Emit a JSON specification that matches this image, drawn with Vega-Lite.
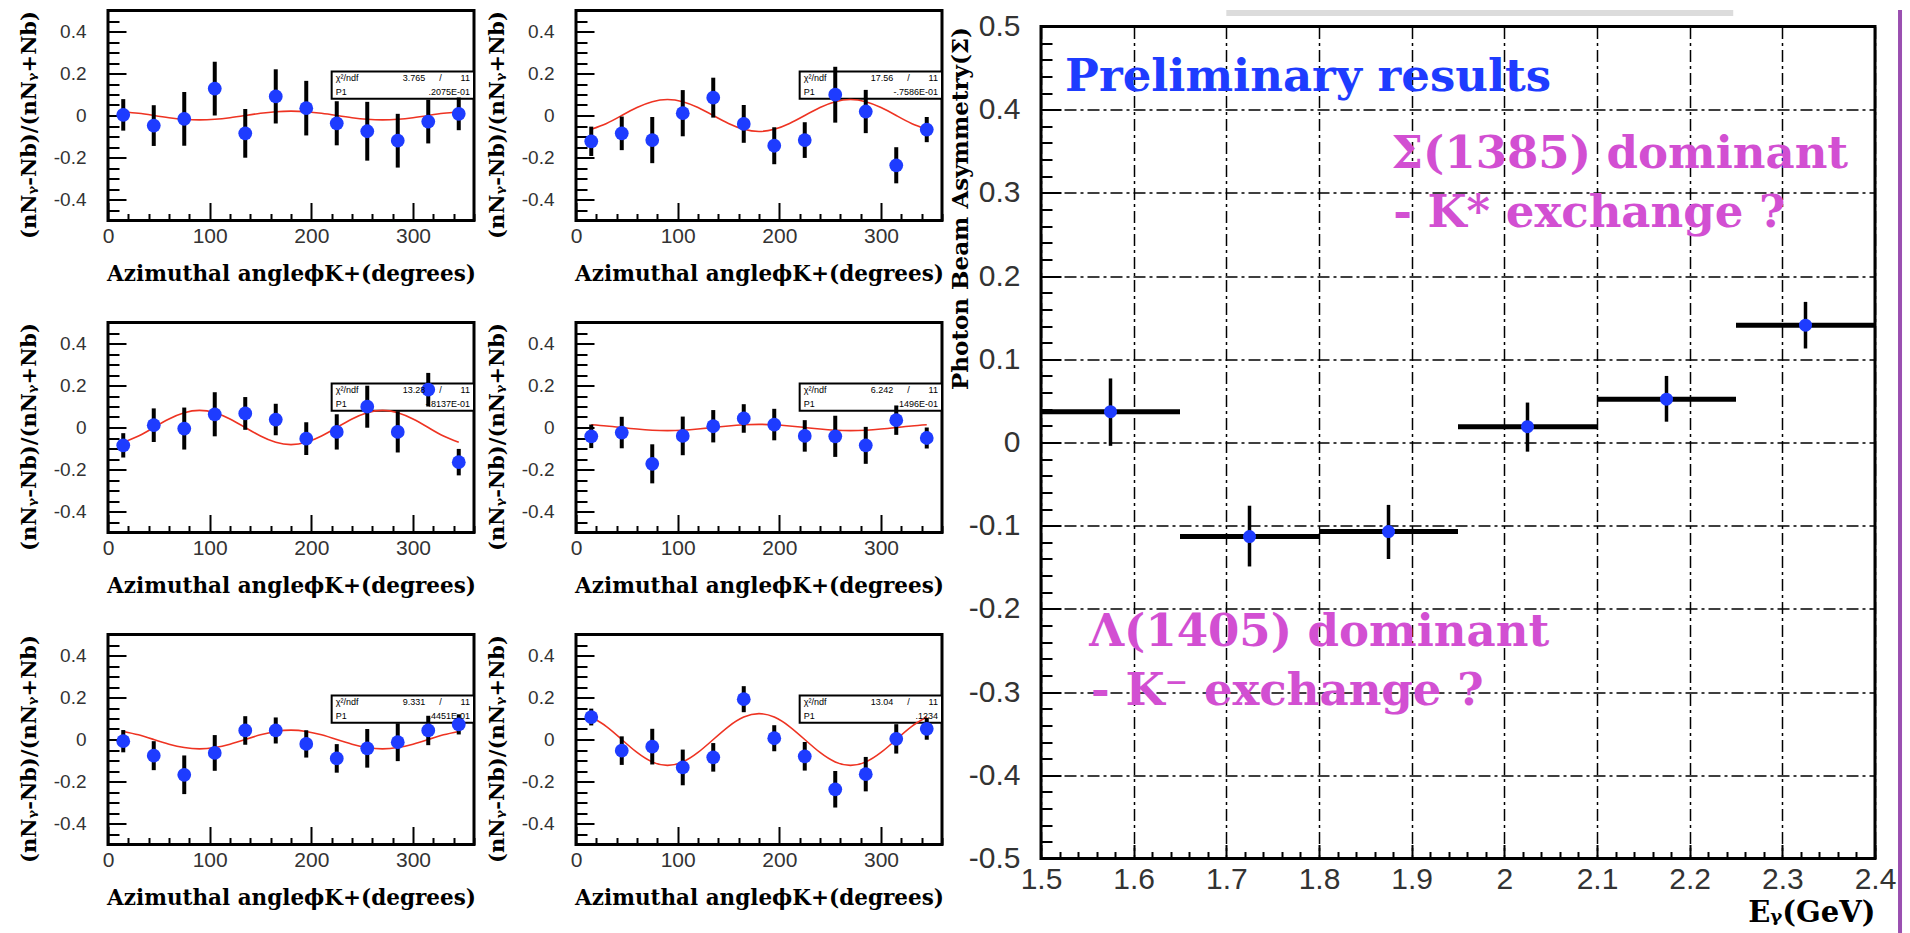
{
"$schema": "https://vega.github.io/schema/vega-lite/v6.json",
"background": "white",
"padding": {"left": 16, "top": 6.5, "right": 0, "bottom": 0},
"config": {
  "view": {"stroke": "black", "strokeWidth": 3},
  "header": {"labels": false, "title": null},
  "headerFacet": {"labels": false, "title": null},
  "axis": {"labelFont": "Liberation Sans", "labelColor": "#333333", "titleFont": "DejaVu Serif", "titleFontWeight": "bold", "titleColor": "black", "tickColor": "black", "tickWidth": 2, "domain": false, "labelFlush": false, "labelOverlap": false, "labelBound": false, "grid": false}
},
"datasets": {
"small": [
{"p":1,"k":"stat","chi":"3.765","ndf":"11","p1":".2075E-01"},
{"p":2,"k":"stat","chi":"17.56","ndf":"11","p1":"-.7586E-01"},
{"p":3,"k":"stat","chi":"13.28","ndf":"11","p1":"-.8137E-01"},
{"p":4,"k":"stat","chi":"6.242","ndf":"11","p1":".1496E-01"},
{"p":5,"k":"stat","chi":"9.331","ndf":"11","p1":".4451E-01"},
{"p":6,"k":"stat","chi":"13.04","ndf":"11","p1":".1234"},
{"p":1,"k":"pt","phi":15,"a":0.003,"lo":-0.072,"hi":0.078},
{"p":1,"k":"pt","phi":45,"a":-0.048,"lo":-0.145,"hi":0.049},
{"p":1,"k":"pt","phi":75,"a":-0.016,"lo":-0.144,"hi":0.112},
{"p":1,"k":"pt","phi":105,"a":0.128,"lo":0.0,"hi":0.256},
{"p":1,"k":"pt","phi":135,"a":-0.085,"lo":-0.201,"hi":0.031},
{"p":1,"k":"pt","phi":165,"a":0.091,"lo":-0.038,"hi":0.22},
{"p":1,"k":"pt","phi":195,"a":0.035,"lo":-0.095,"hi":0.165},
{"p":1,"k":"pt","phi":225,"a":-0.037,"lo":-0.142,"hi":0.068},
{"p":1,"k":"pt","phi":255,"a":-0.075,"lo":-0.215,"hi":0.065},
{"p":1,"k":"pt","phi":285,"a":-0.12,"lo":-0.248,"hi":0.008},
{"p":1,"k":"pt","phi":315,"a":-0.029,"lo":-0.133,"hi":0.075},
{"p":1,"k":"pt","phi":345,"a":0.008,"lo":-0.07,"hi":0.086},
{"p":2,"k":"pt","phi":15,"a":-0.123,"lo":-0.193,"hi":-0.053},
{"p":2,"k":"pt","phi":45,"a":-0.085,"lo":-0.165,"hi":-0.005},
{"p":2,"k":"pt","phi":75,"a":-0.117,"lo":-0.227,"hi":-0.007},
{"p":2,"k":"pt","phi":105,"a":0.011,"lo":-0.099,"hi":0.121},
{"p":2,"k":"pt","phi":135,"a":0.085,"lo":-0.01,"hi":0.18},
{"p":2,"k":"pt","phi":165,"a":-0.04,"lo":-0.13,"hi":0.05},
{"p":2,"k":"pt","phi":195,"a":-0.144,"lo":-0.232,"hi":-0.056},
{"p":2,"k":"pt","phi":225,"a":-0.117,"lo":-0.202,"hi":-0.032},
{"p":2,"k":"pt","phi":255,"a":0.099,"lo":-0.034,"hi":0.232},
{"p":2,"k":"pt","phi":285,"a":0.019,"lo":-0.084,"hi":0.122},
{"p":2,"k":"pt","phi":315,"a":-0.237,"lo":-0.323,"hi":-0.151},
{"p":2,"k":"pt","phi":345,"a":-0.067,"lo":-0.127,"hi":-0.007},
{"p":3,"k":"pt","phi":15,"a":-0.085,"lo":-0.143,"hi":-0.027},
{"p":3,"k":"pt","phi":45,"a":0.011,"lo":-0.069,"hi":0.091},
{"p":3,"k":"pt","phi":75,"a":-0.005,"lo":-0.105,"hi":0.095},
{"p":3,"k":"pt","phi":105,"a":0.063,"lo":-0.042,"hi":0.168},
{"p":3,"k":"pt","phi":135,"a":0.067,"lo":-0.011,"hi":0.145},
{"p":3,"k":"pt","phi":165,"a":0.038,"lo":-0.037,"hi":0.113},
{"p":3,"k":"pt","phi":195,"a":-0.053,"lo":-0.131,"hi":0.025},
{"p":3,"k":"pt","phi":225,"a":-0.021,"lo":-0.105,"hi":0.063},
{"p":3,"k":"pt","phi":255,"a":0.099,"lo":-0.001,"hi":0.199},
{"p":3,"k":"pt","phi":285,"a":-0.021,"lo":-0.119,"hi":0.077},
{"p":3,"k":"pt","phi":315,"a":0.18,"lo":0.1,"hi":0.26},
{"p":3,"k":"pt","phi":345,"a":-0.165,"lo":-0.228,"hi":-0.102},
{"p":4,"k":"pt","phi":15,"a":-0.042,"lo":-0.098,"hi":0.014},
{"p":4,"k":"pt","phi":45,"a":-0.024,"lo":-0.099,"hi":0.051},
{"p":4,"k":"pt","phi":75,"a":-0.173,"lo":-0.266,"hi":-0.08},
{"p":4,"k":"pt","phi":105,"a":-0.04,"lo":-0.132,"hi":0.052},
{"p":4,"k":"pt","phi":135,"a":0.006,"lo":-0.071,"hi":0.083},
{"p":4,"k":"pt","phi":165,"a":0.043,"lo":-0.025,"hi":0.111},
{"p":4,"k":"pt","phi":195,"a":0.014,"lo":-0.061,"hi":0.089},
{"p":4,"k":"pt","phi":225,"a":-0.04,"lo":-0.115,"hi":0.035},
{"p":4,"k":"pt","phi":255,"a":-0.042,"lo":-0.14,"hi":0.056},
{"p":4,"k":"pt","phi":285,"a":-0.085,"lo":-0.173,"hi":0.003},
{"p":4,"k":"pt","phi":315,"a":0.035,"lo":-0.035,"hi":0.105},
{"p":4,"k":"pt","phi":345,"a":-0.05,"lo":-0.1,"hi":0.0},
{"p":5,"k":"pt","phi":15,"a":-0.008,"lo":-0.061,"hi":0.045},
{"p":5,"k":"pt","phi":45,"a":-0.077,"lo":-0.146,"hi":-0.008},
{"p":5,"k":"pt","phi":75,"a":-0.168,"lo":-0.26,"hi":-0.076},
{"p":5,"k":"pt","phi":105,"a":-0.064,"lo":-0.149,"hi":0.021},
{"p":5,"k":"pt","phi":135,"a":0.043,"lo":-0.025,"hi":0.111},
{"p":5,"k":"pt","phi":165,"a":0.043,"lo":-0.019,"hi":0.105},
{"p":5,"k":"pt","phi":195,"a":-0.021,"lo":-0.086,"hi":0.044},
{"p":5,"k":"pt","phi":225,"a":-0.09,"lo":-0.158,"hi":-0.022},
{"p":5,"k":"pt","phi":255,"a":-0.042,"lo":-0.134,"hi":0.05},
{"p":5,"k":"pt","phi":285,"a":-0.013,"lo":-0.103,"hi":0.077},
{"p":5,"k":"pt","phi":315,"a":0.043,"lo":-0.027,"hi":0.113},
{"p":5,"k":"pt","phi":345,"a":0.072,"lo":0.024,"hi":0.12},
{"p":6,"k":"pt","phi":15,"a":0.107,"lo":0.067,"hi":0.147},
{"p":6,"k":"pt","phi":45,"a":-0.053,"lo":-0.121,"hi":0.015},
{"p":6,"k":"pt","phi":75,"a":-0.034,"lo":-0.119,"hi":0.051},
{"p":6,"k":"pt","phi":105,"a":-0.133,"lo":-0.218,"hi":-0.048},
{"p":6,"k":"pt","phi":135,"a":-0.085,"lo":-0.153,"hi":-0.017},
{"p":6,"k":"pt","phi":165,"a":0.192,"lo":0.13,"hi":0.254},
{"p":6,"k":"pt","phi":195,"a":0.006,"lo":-0.056,"hi":0.068},
{"p":6,"k":"pt","phi":225,"a":-0.08,"lo":-0.148,"hi":-0.012},
{"p":6,"k":"pt","phi":255,"a":-0.237,"lo":-0.324,"hi":-0.15},
{"p":6,"k":"pt","phi":285,"a":-0.165,"lo":-0.247,"hi":-0.083},
{"p":6,"k":"pt","phi":315,"a":0.003,"lo":-0.067,"hi":0.073},
{"p":6,"k":"pt","phi":345,"a":0.051,"lo":-0.001,"hi":0.103},
{"p":1,"k":"fit","phi":15,"f":0.018},{"p":1,"k":"fit","phi":30,"f":0.0104},{"p":1,"k":"fit","phi":45,"f":0},{"p":1,"k":"fit","phi":60,"f":-0.0104},{"p":1,"k":"fit","phi":75,"f":-0.018},{"p":1,"k":"fit","phi":90,"f":-0.0208},{"p":1,"k":"fit","phi":105,"f":-0.018},{"p":1,"k":"fit","phi":120,"f":-0.0104},{"p":1,"k":"fit","phi":135,"f":0},{"p":1,"k":"fit","phi":150,"f":0.0104},{"p":1,"k":"fit","phi":165,"f":0.018},{"p":1,"k":"fit","phi":180,"f":0.0208},{"p":1,"k":"fit","phi":195,"f":0.018},{"p":1,"k":"fit","phi":210,"f":0.0104},{"p":1,"k":"fit","phi":225,"f":0},{"p":1,"k":"fit","phi":240,"f":-0.0104},{"p":1,"k":"fit","phi":255,"f":-0.018},{"p":1,"k":"fit","phi":270,"f":-0.0208},{"p":1,"k":"fit","phi":285,"f":-0.018},{"p":1,"k":"fit","phi":300,"f":-0.0104},{"p":1,"k":"fit","phi":315,"f":0},{"p":1,"k":"fit","phi":330,"f":0.0104},{"p":1,"k":"fit","phi":345,"f":0.018},
{"p":2,"k":"fit","phi":15,"f":-0.0657},{"p":2,"k":"fit","phi":30,"f":-0.038},{"p":2,"k":"fit","phi":45,"f":0},{"p":2,"k":"fit","phi":60,"f":0.038},{"p":2,"k":"fit","phi":75,"f":0.0657},{"p":2,"k":"fit","phi":90,"f":0.0759},{"p":2,"k":"fit","phi":105,"f":0.0657},{"p":2,"k":"fit","phi":120,"f":0.038},{"p":2,"k":"fit","phi":135,"f":0},{"p":2,"k":"fit","phi":150,"f":-0.038},{"p":2,"k":"fit","phi":165,"f":-0.0657},{"p":2,"k":"fit","phi":180,"f":-0.0759},{"p":2,"k":"fit","phi":195,"f":-0.0657},{"p":2,"k":"fit","phi":210,"f":-0.038},{"p":2,"k":"fit","phi":225,"f":0},{"p":2,"k":"fit","phi":240,"f":0.038},{"p":2,"k":"fit","phi":255,"f":0.0657},{"p":2,"k":"fit","phi":270,"f":0.0759},{"p":2,"k":"fit","phi":285,"f":0.0657},{"p":2,"k":"fit","phi":300,"f":0.038},{"p":2,"k":"fit","phi":315,"f":0},{"p":2,"k":"fit","phi":330,"f":-0.038},{"p":2,"k":"fit","phi":345,"f":-0.0657},
{"p":3,"k":"fit","phi":15,"f":-0.0705},{"p":3,"k":"fit","phi":30,"f":-0.0407},{"p":3,"k":"fit","phi":45,"f":0},{"p":3,"k":"fit","phi":60,"f":0.0407},{"p":3,"k":"fit","phi":75,"f":0.0705},{"p":3,"k":"fit","phi":90,"f":0.0814},{"p":3,"k":"fit","phi":105,"f":0.0705},{"p":3,"k":"fit","phi":120,"f":0.0407},{"p":3,"k":"fit","phi":135,"f":0},{"p":3,"k":"fit","phi":150,"f":-0.0407},{"p":3,"k":"fit","phi":165,"f":-0.0705},{"p":3,"k":"fit","phi":180,"f":-0.0814},{"p":3,"k":"fit","phi":195,"f":-0.0705},{"p":3,"k":"fit","phi":210,"f":-0.0407},{"p":3,"k":"fit","phi":225,"f":0},{"p":3,"k":"fit","phi":240,"f":0.0407},{"p":3,"k":"fit","phi":255,"f":0.0705},{"p":3,"k":"fit","phi":270,"f":0.0814},{"p":3,"k":"fit","phi":285,"f":0.0705},{"p":3,"k":"fit","phi":300,"f":0.0407},{"p":3,"k":"fit","phi":315,"f":0},{"p":3,"k":"fit","phi":330,"f":-0.0407},{"p":3,"k":"fit","phi":345,"f":-0.0705},
{"p":4,"k":"fit","phi":15,"f":0.013},{"p":4,"k":"fit","phi":30,"f":0.0075},{"p":4,"k":"fit","phi":45,"f":0},{"p":4,"k":"fit","phi":60,"f":-0.0075},{"p":4,"k":"fit","phi":75,"f":-0.013},{"p":4,"k":"fit","phi":90,"f":-0.015},{"p":4,"k":"fit","phi":105,"f":-0.013},{"p":4,"k":"fit","phi":120,"f":-0.0075},{"p":4,"k":"fit","phi":135,"f":0},{"p":4,"k":"fit","phi":150,"f":0.0075},{"p":4,"k":"fit","phi":165,"f":0.013},{"p":4,"k":"fit","phi":180,"f":0.015},{"p":4,"k":"fit","phi":195,"f":0.013},{"p":4,"k":"fit","phi":210,"f":0.0075},{"p":4,"k":"fit","phi":225,"f":0},{"p":4,"k":"fit","phi":240,"f":-0.0075},{"p":4,"k":"fit","phi":255,"f":-0.013},{"p":4,"k":"fit","phi":270,"f":-0.015},{"p":4,"k":"fit","phi":285,"f":-0.013},{"p":4,"k":"fit","phi":300,"f":-0.0075},{"p":4,"k":"fit","phi":315,"f":0},{"p":4,"k":"fit","phi":330,"f":0.0075},{"p":4,"k":"fit","phi":345,"f":0.013},
{"p":5,"k":"fit","phi":15,"f":0.0385},{"p":5,"k":"fit","phi":30,"f":0.0223},{"p":5,"k":"fit","phi":45,"f":0},{"p":5,"k":"fit","phi":60,"f":-0.0223},{"p":5,"k":"fit","phi":75,"f":-0.0385},{"p":5,"k":"fit","phi":90,"f":-0.0445},{"p":5,"k":"fit","phi":105,"f":-0.0385},{"p":5,"k":"fit","phi":120,"f":-0.0223},{"p":5,"k":"fit","phi":135,"f":0},{"p":5,"k":"fit","phi":150,"f":0.0223},{"p":5,"k":"fit","phi":165,"f":0.0385},{"p":5,"k":"fit","phi":180,"f":0.0445},{"p":5,"k":"fit","phi":195,"f":0.0385},{"p":5,"k":"fit","phi":210,"f":0.0223},{"p":5,"k":"fit","phi":225,"f":0},{"p":5,"k":"fit","phi":240,"f":-0.0223},{"p":5,"k":"fit","phi":255,"f":-0.0385},{"p":5,"k":"fit","phi":270,"f":-0.0445},{"p":5,"k":"fit","phi":285,"f":-0.0385},{"p":5,"k":"fit","phi":300,"f":-0.0223},{"p":5,"k":"fit","phi":315,"f":0},{"p":5,"k":"fit","phi":330,"f":0.0223},{"p":5,"k":"fit","phi":345,"f":0.0385},
{"p":6,"k":"fit","phi":15,"f":0.1069},{"p":6,"k":"fit","phi":30,"f":0.0617},{"p":6,"k":"fit","phi":45,"f":0},{"p":6,"k":"fit","phi":60,"f":-0.0617},{"p":6,"k":"fit","phi":75,"f":-0.1069},{"p":6,"k":"fit","phi":90,"f":-0.1234},{"p":6,"k":"fit","phi":105,"f":-0.1069},{"p":6,"k":"fit","phi":120,"f":-0.0617},{"p":6,"k":"fit","phi":135,"f":0},{"p":6,"k":"fit","phi":150,"f":0.0617},{"p":6,"k":"fit","phi":165,"f":0.1069},{"p":6,"k":"fit","phi":180,"f":0.1234},{"p":6,"k":"fit","phi":195,"f":0.1069},{"p":6,"k":"fit","phi":210,"f":0.0617},{"p":6,"k":"fit","phi":225,"f":0},{"p":6,"k":"fit","phi":240,"f":-0.0617},{"p":6,"k":"fit","phi":255,"f":-0.1069},{"p":6,"k":"fit","phi":270,"f":-0.1234},{"p":6,"k":"fit","phi":285,"f":-0.1069},{"p":6,"k":"fit","phi":300,"f":-0.0617},{"p":6,"k":"fit","phi":315,"f":0},{"p":6,"k":"fit","phi":330,"f":0.0617},{"p":6,"k":"fit","phi":345,"f":0.1069}
],
"big": [
{"e":1.575,"elo":1.5,"ehi":1.65,"s":0.037,"slo":-0.004,"shi":0.077},
{"e":1.725,"elo":1.65,"ehi":1.8,"s":-0.113,"slo":-0.149,"shi":-0.076},
{"e":1.875,"elo":1.8,"ehi":1.95,"s":-0.107,"slo":-0.14,"shi":-0.075},
{"e":2.025,"elo":1.95,"ehi":2.1,"s":0.019,"slo":-0.011,"shi":0.048},
{"e":2.175,"elo":2.1,"ehi":2.25,"s":0.052,"slo":0.025,"shi":0.08},
{"e":2.325,"elo":2.25,"ehi":2.4,"s":0.141,"slo":0.113,"shi":0.169}
]
},
"spacing": 2,
"bounds": "full",
"hconcat": [
{
  "data": {"name": "small"},
  "facet": {"field": "p", "type": "ordinal", "header": {"labels": false, "title": null, "labelExpr": "''", "labelFontSize": 0.01, "labelPadding": 0}},
  "columns": 2,
  "spacing": {"row": 102, "column": 102},
  "bounds": "flush",
  "resolve": {"axis": {"x": "independent", "y": "independent"}},
  "spec": {
    "width": 366, "height": 210,
    "layer": [
      {"transform": [{"filter": "datum.k === 'stat'"}],
       "mark": {"type": "rect", "fill": "white", "stroke": "black", "strokeWidth": 2},
       "encoding": {"x": {"datum": 220, "type": "quantitative"}, "x2": {"datum": 360}, "y": {"datum": 0.21, "type": "quantitative"}, "y2": {"datum": 0.08}}},
      {"transform": [{"filter": "datum.k === 'fit'"}],
       "mark": {"type": "line", "color": "#ee3322", "strokeWidth": 1.6, "interpolate": "natural"},
       "encoding": {"x": {"field": "phi", "type": "quantitative"}, "y": {"field": "f", "type": "quantitative"}}},
      {"transform": [{"filter": "datum.k === 'pt'"}],
       "mark": {"type": "rule", "color": "black", "strokeWidth": 4},
       "encoding": {"x": {"field": "phi", "type": "quantitative"}, "y": {"field": "lo", "type": "quantitative"}, "y2": {"field": "hi"}}},
      {"transform": [{"filter": "datum.k === 'pt'"}],
       "mark": {"type": "circle", "color": "#1e3cff", "opacity": 1, "size": 190},
       "encoding": {
         "x": {"field": "phi", "type": "quantitative", "scale": {"domain": [0, 360], "nice": false, "zero": false},
           "axis": {"title": "Azimuthal angleϕK+(degrees)", "titleFontSize": 21.5, "titleY": 60, "titleBaseline": "alphabetic",
             "values": [0,20,40,60,80,100,120,140,160,180,200,220,240,260,280,300,320,340,360], "tickCount": 500,
             "tickSize": {"condition": {"test": "datum.value % 100 === 0", "value": -18}, "value": -7},
             "labelExpr": "datum.value % 100 === 0 ? format(datum.value, 'd') : ''",
             "labelOverlap": false, "labelFontSize": 21, "labelPadding": 23}},
         "y": {"field": "a", "type": "quantitative", "scale": {"domain": [-0.5, 0.5], "nice": false, "zero": false},
           "axis": {"title": "(nNᵧ-Nb)/(nNᵧ+Nb)", "titleFontSize": 21, "titleAnchor": "end", "titleX": -79, "titleBaseline": "middle",
             "values": [-0.45,-0.4,-0.35,-0.3,-0.25,-0.2,-0.15,-0.1,-0.05,0,0.05,0.1,0.15,0.2,0.25,0.3,0.35,0.4,0.45], "tickCount": 500,
             "tickSize": {"condition": {"test": "abs(datum.value*5 - round(datum.value*5)) < 0.001", "value": -18}, "value": -11},
             "labelExpr": "abs(datum.value*5 - round(datum.value*5)) < 0.001 ? (datum.value < -0.001 ? '-' : '') + format(abs(datum.value), '~g') : ''",
             "labelOverlap": false, "labelFontSize": 19, "labelPadding": 40}}}},
      {"transform": [{"filter": "datum.k === 'stat'"}],
       "mark": {"type": "text", "align": "left", "baseline": "middle", "fontSize": 9, "font": "Liberation Sans", "color": "black"},
       "encoding": {"x": {"datum": 224}, "y": {"datum": 0.177}, "text": {"value": "χ²/ndf"}}},
      {"transform": [{"filter": "datum.k === 'stat'"}],
       "mark": {"type": "text", "align": "right", "baseline": "middle", "fontSize": 9, "font": "Liberation Sans", "color": "black"},
       "encoding": {"x": {"datum": 312}, "y": {"datum": 0.177}, "text": {"field": "chi"}}},
      {"transform": [{"filter": "datum.k === 'stat'"}],
       "mark": {"type": "text", "align": "center", "baseline": "middle", "fontSize": 9, "font": "Liberation Sans", "color": "black"},
       "encoding": {"x": {"datum": 327}, "y": {"datum": 0.177}, "text": {"value": "/"}}},
      {"transform": [{"filter": "datum.k === 'stat'"}],
       "mark": {"type": "text", "align": "right", "baseline": "middle", "fontSize": 9, "font": "Liberation Sans", "color": "black"},
       "encoding": {"x": {"datum": 356}, "y": {"datum": 0.177}, "text": {"field": "ndf"}}},
      {"transform": [{"filter": "datum.k === 'stat'"}],
       "mark": {"type": "text", "align": "left", "baseline": "middle", "fontSize": 9, "font": "Liberation Sans", "color": "black"},
       "encoding": {"x": {"datum": 224}, "y": {"datum": 0.112}, "text": {"value": "P1"}}},
      {"transform": [{"filter": "datum.k === 'stat'"}],
       "mark": {"type": "text", "align": "right", "baseline": "middle", "fontSize": 9, "font": "Liberation Sans", "color": "black"},
       "encoding": {"x": {"datum": 356}, "y": {"datum": 0.112}, "text": {"field": "p1"}}}
    ]
  }
},
{
  "vconcat": [
    {"width": 834, "height": 16, "view": {"stroke": null}, "data": {"values": [{"t": ""}]}, "mark": {"type": "text"}, "encoding": {"text": {"field": "t"}}},
    {
      "width": 834, "height": 832,
      "data": {"name": "big"},
      "layer": [
        {"mark": {"type": "rule", "color": "black", "strokeWidth": 5},
         "encoding": {
           "x": {"field": "elo", "type": "quantitative", "scale": {"domain": [1.5, 2.4], "nice": false, "zero": false},
             "axis": {"title": "Eᵧ(GeV)", "titleFontSize": 29, "titleAnchor": "end", "titleY": 63, "titleBaseline": "alphabetic",
               "values": [1.5,1.52,1.54,1.56,1.58,1.6,1.62,1.64,1.66,1.68,1.7,1.72,1.74,1.76,1.78,1.8,1.82,1.84,1.86,1.88,1.9,1.92,1.94,1.96,1.98,2,2.02,2.04,2.06,2.08,2.1,2.12,2.14,2.16,2.18,2.2,2.22,2.24,2.26,2.28,2.3,2.32,2.34,2.36,2.38,2.4], "tickCount": 500,
               "grid": true, "gridColor": "black", "gridWidth": 1.5, "gridDash": [12, 4, 3, 4],
               "gridOpacity": {"condition": {"test": "abs(datum.value*10 - round(datum.value*10)) < 0.001", "value": 1}, "value": 0},
               "tickSize": {"condition": {"test": "abs(datum.value*10 - round(datum.value*10)) < 0.001", "value": -14}, "value": -7},
               "labelExpr": "abs(datum.value*10 - round(datum.value*10)) < 0.001 ? format(datum.value, '~g') : ''",
               "labelOverlap": false, "labelFontSize": 30, "labelPadding": 20}},
           "x2": {"field": "ehi"},
           "y": {"field": "s", "type": "quantitative", "scale": {"domain": [-0.5, 0.5], "nice": false, "zero": false},
             "axis": {"title": "Photon Beam Asymmetry(Σ)", "titleFontSize": 23, "titleAnchor": "end", "titleX": -81, "titleBaseline": "middle",
               "values": [-0.5,-0.48,-0.46,-0.44,-0.42,-0.4,-0.38,-0.36,-0.34,-0.32,-0.3,-0.28,-0.26,-0.24,-0.22,-0.2,-0.18,-0.16,-0.14,-0.12,-0.1,-0.08,-0.06,-0.04,-0.02,0,0.02,0.04,0.06,0.08,0.1,0.12,0.14,0.16,0.18,0.2,0.22,0.24,0.26,0.28,0.3,0.32,0.34,0.36,0.38,0.4,0.42,0.44,0.46,0.48,0.5], "tickCount": 500,
               "grid": true, "gridColor": "black", "gridWidth": 1.5, "gridDash": [12, 4, 3, 4],
               "gridOpacity": {"condition": {"test": "abs(datum.value*10 - round(datum.value*10)) < 0.001", "value": 1}, "value": 0},
               "tickSize": {"condition": {"test": "abs(datum.value*10 - round(datum.value*10)) < 0.001", "value": -20}, "value": -11},
               "labelExpr": "abs(datum.value*10 - round(datum.value*10)) < 0.001 ? (datum.value < -0.001 ? '-' : '') + format(abs(datum.value), '~g') : ''",
               "labelOverlap": false, "labelFontSize": 30, "labelPadding": 41}}}},
        {"mark": {"type": "rule", "color": "black", "strokeWidth": 3.5},
         "encoding": {"x": {"field": "e", "type": "quantitative"}, "y": {"field": "slo", "type": "quantitative"}, "y2": {"field": "shi"}}},
        {"mark": {"type": "circle", "color": "#1e3cff", "opacity": 1, "size": 170},
         "encoding": {"x": {"field": "e", "type": "quantitative"}, "y": {"field": "s", "type": "quantitative"}}},
        {"data": {"values": [{"t": "Preliminary results"}]},
         "mark": {"type": "text", "align": "left", "baseline": "alphabetic", "font": "DejaVu Serif", "fontWeight": "bold", "fontSize": 45, "color": "#1e3cff"},
         "encoding": {"x": {"datum": 1.526}, "y": {"datum": 0.422}, "text": {"field": "t"}}},
        {"data": {"values": [{"t": "Σ(1385) dominant"}]},
         "mark": {"type": "text", "align": "left", "baseline": "alphabetic", "font": "DejaVu Serif", "fontWeight": "bold", "fontSize": 45, "color": "#d24fd2"},
         "encoding": {"x": {"datum": 1.878}, "y": {"datum": 0.33}, "text": {"field": "t"}}},
        {"data": {"values": [{"t": "- K* exchange ?"}]},
         "mark": {"type": "text", "align": "left", "baseline": "alphabetic", "font": "DejaVu Serif", "fontWeight": "bold", "fontSize": 45, "color": "#d24fd2"},
         "encoding": {"x": {"datum": 1.88}, "y": {"datum": 0.259}, "text": {"field": "t"}}},
        {"data": {"values": [{"t": "Λ(1405) dominant"}]},
         "mark": {"type": "text", "align": "left", "baseline": "alphabetic", "font": "DejaVu Serif", "fontWeight": "bold", "fontSize": 45, "color": "#d24fd2"},
         "encoding": {"x": {"datum": 1.552}, "y": {"datum": -0.245}, "text": {"field": "t"}}},
        {"data": {"values": [{"t": "- K⁻ exchange ?"}]},
         "mark": {"type": "text", "align": "left", "baseline": "alphabetic", "font": "DejaVu Serif", "fontWeight": "bold", "fontSize": 45, "color": "#d24fd2"},
         "encoding": {"x": {"datum": 1.554}, "y": {"datum": -0.316}, "text": {"field": "t"}}},
        {"data": {"values": [{"t": "bar"}]},
         "mark": {"type": "rule", "color": "#dcdcdc", "strokeWidth": 6},
         "encoding": {"x": {"datum": 1.7}, "x2": {"datum": 2.247}, "y": {"datum": 0.5162}}},
        {"data": {"values": [{"t": "edge"}]},
         "mark": {"type": "rule", "color": "#9a4fb0", "strokeWidth": 4},
         "encoding": {"x": {"datum": 2.427}, "y": {"datum": 0.5198}, "y2": {"datum": -0.591}}}
      ]
    }
  ],
  "spacing": 0,
  "bounds": "flush"
}
]
}
